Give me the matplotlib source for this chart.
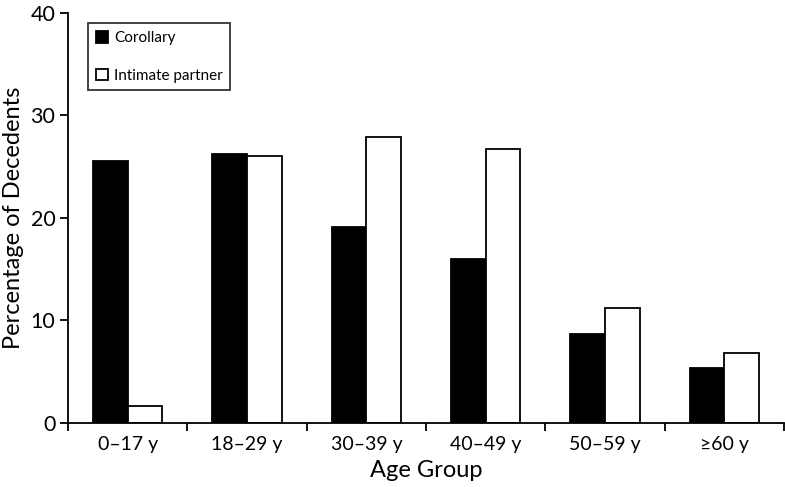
import matplotlib
matplotlib.use("Agg")
import matplotlib.pyplot as plt
import numpy as np

categories = ["0\u201317 y", "18\u201329 y", "30\u201339 y", "40\u201349 y", "50\u201359 y", "\u226560 y"]
corollary = [25.5, 26.2, 19.1, 16.0, 8.6, 5.3]
intimate = [1.6, 26.0, 27.9, 26.7, 11.2, 6.8]

plt.rcParams['font.family'] = ['Lato', 'DejaVu Sans']

fig = plt.figure(figsize=(7.85, 4.87), dpi=100)
ax = fig.add_axes([0.0866, 0.1324, 0.9121, 0.8419])

x = np.arange(len(categories))
w = 0.29
ax.bar(x - w / 2, corollary, w, color='black', edgecolor='black', linewidth=1.3, label='Corollary')
ax.bar(x + w / 2, intimate, w, color='white', edgecolor='black', linewidth=1.3, label='Intimate partner')

ax.set_xlim(-0.5, len(categories) - 0.5)
ax.set_ylim(0, 40)
ax.set_yticks([0, 10, 20, 30, 40])
ax.set_xticks(np.arange(-0.5, len(categories), 1.0))
ax.set_xticklabels([])
ax.set_xticks(x, minor=True)
ax.set_xticklabels(categories, minor=True, fontsize=14)
ax.tick_params(axis='x', which='minor', length=0, pad=10)
ax.tick_params(axis='x', which='major', length=6, width=1.3, direction='out')
ax.tick_params(axis='y', length=6, width=1.3, direction='out', labelsize=15.5, pad=3)

for s in ['top', 'right']:
    ax.spines[s].set_visible(False)
for s in ['left', 'bottom']:
    ax.spines[s].set_linewidth(1.3)

ax.set_xlabel("Age Group", fontsize=17, labelpad=5)
ax.set_ylabel("Percentage of Decedents", fontsize=17, labelpad=5)

leg = ax.legend(loc='upper left', bbox_to_anchor=(0.028, 0.974), fontsize=11,
                labelspacing=1.55, handlelength=0.8, handleheight=0.8,
                handletextpad=0.4, borderpad=0.5, fancybox=False, frameon=True,
                borderaxespad=0)
frame = leg.get_frame()
frame.set_edgecolor('black')
frame.set_linewidth(1.3)

fig.savefig("out.png", dpi=100)
